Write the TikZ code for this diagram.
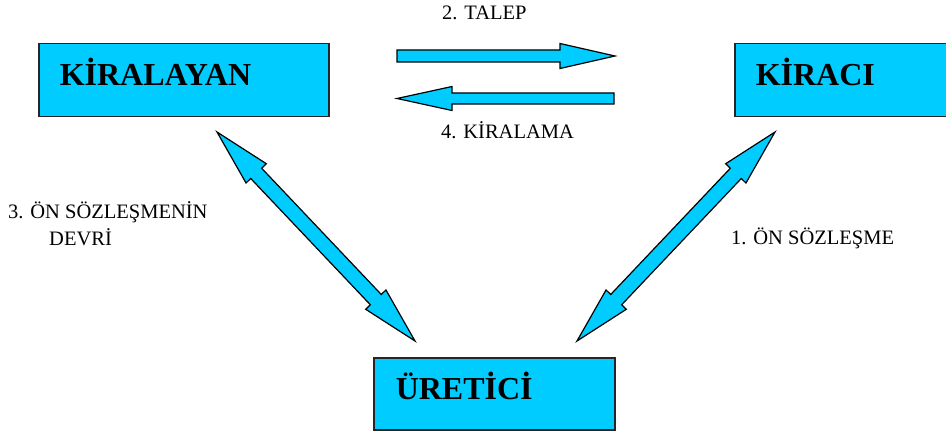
\documentclass[tikz,border=0pt]{standalone}
\usepackage{fontspec}
\setmainfont{Liberation Serif}
\usetikzlibrary{calc}
\definecolor{boxcyan}{RGB}{0,204,255}
\tikzset{
  party/.style={draw=black!85, line width=1.5pt, fill=boxcyan, anchor=north west,
    inner ysep=0pt, inner xsep=21pt, align=left, minimum height=73pt,
    text height=22pt, text depth=11pt, font=\fontsize{32}{38}\selectfont\bfseries},
  flow/.style={draw=black, line width=1.2pt, fill=boxcyan, line join=miter},
  tag/.style={inner sep=0pt, anchor=base west, font=\fontsize{20.5}{27}\selectfont},
}
% block arrow from #1 (tail) to #2 (tip); head length #3, head half width #4, shaft half width #5
\newcommand\fatsingle[5]{%
  \coordinate (fa-c) at ($(#2)!#3!(#1)$);
  \draw[flow] ($(#1)!#5!90:(#2)$) -- ($(fa-c)!#5!90:(#2)$) -- ($(fa-c)!#4!90:(#2)$)
    -- (#2) -- ($(fa-c)!#4!-90:(#2)$) -- ($(fa-c)!#5!-90:(#2)$) -- ($(#1)!#5!-90:(#2)$) -- cycle;
}
% block arrow with heads at both ends #1 and #2
\newcommand\fatdouble[5]{%
  \coordinate (fd-a) at ($(#1)!#3!(#2)$);
  \coordinate (fd-b) at ($(#2)!#3!(#1)$);
  \draw[flow] (#1) -- ($(fd-a)!#4!90:(#2)$) -- ($(fd-a)!#5!90:(#2)$) -- ($(fd-b)!#5!90:(#2)$)
    -- ($(fd-b)!#4!90:(#2)$) -- (#2) -- ($(fd-b)!#4!-90:(#2)$) -- ($(fd-b)!#5!-90:(#2)$)
    -- ($(fd-a)!#5!-90:(#2)$) -- ($(fd-a)!#4!-90:(#2)$) -- cycle;
}
\begin{document}
\begin{tikzpicture}[x=1pt,y=-1pt]
  \clip (0,0) rectangle (946,433);

  % parties
  \node[party, text width=248pt] (kiralayan) at (38,43) {KİRALAYAN};
  \node[party, text width=248pt] (kiraci) at (734,43) {KİRACI};
  \node[party, text width=197pt, inner xsep=22pt, minimum height=72pt] (uretici) at (373,357) {ÜRETİCİ};

  % arrow end points
  \coordinate (talep-tail) at (397,56);
  \coordinate (talep-tip) at (615,56);
  \coordinate (kiralama-tail) at (614,98.5);
  \coordinate (kiralama-tip) at (397,98.5);
  \coordinate (devir-top) at (217,132);
  \coordinate (devir-bot) at (415,341);
  \coordinate (on-top) at (775,132);
  \coordinate (on-bot) at (577,341);

  % flows
  \fatsingle{talep-tail}{talep-tip}{55pt}{12.5pt}{6pt}
  \fatsingle{kiralama-tail}{kiralama-tip}{55pt}{12pt}{5.5pt}
  \fatdouble{devir-top}{devir-bot}{57pt}{14pt}{7.5pt}
  \fatdouble{on-top}{on-bot}{57pt}{14pt}{7.5pt}

  % labels
  \node[tag] (l-talep) at (442,20) {2. TALEP};
  \node[tag] (l-kiralama) at (441,139) {4. KİRALAMA};
  \node[tag, align=left] (l-devir) at (8,245) {3. ÖN SÖZLEŞMENİN\\\hspace*{41pt}DEVRİ};
  \node[tag] (l-on) at (731,244) {1. ÖN SÖZLEŞME};
\end{tikzpicture}
\end{document}
